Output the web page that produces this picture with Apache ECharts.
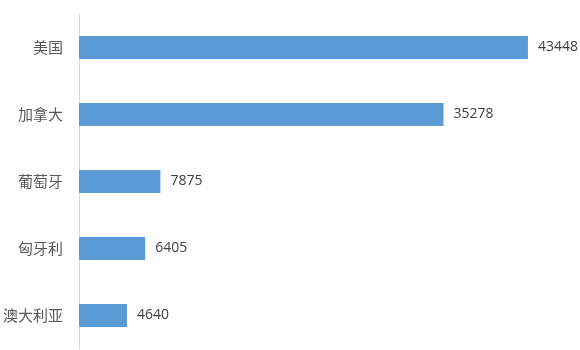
<!DOCTYPE html>
<html>
<head>
<meta charset="utf-8">
<script src="https://cdn.jsdelivr.net/npm/echarts@6/dist/echarts.min.js"></script>
<style>html,body{margin:0;padding:0;background:#fff;}#c{width:580px;height:350px;}</style>
</head>
<body>
<div id="c"></div>
<script>
const categories = ['美国', '加拿大', '葡萄牙', '匈牙利', '澳大利亚'];
const values = [43448, 35278, 7875, 6405, 4640];

const chart = echarts.init(document.getElementById('c'));
chart.setOption({
  animation: false,
  backgroundColor: '#fff',
  grid: { left: 79, right: 36, top: 14, bottom: 1, containLabel: false },
  xAxis: {
    type: 'value', min: 0, max: 45000,
    show: false
  },
  yAxis: {
    type: 'category',
    data: categories,
    inverse: true,
    axisLine: { show: true, lineStyle: { color: '#d9d9d9', width: 1 } },
    axisTick: { show: false },
    axisLabel: {
      margin: 16,
      fontSize: 15,
      color: '#595959',
      fontFamily: '"Noto Sans CJK SC", sans-serif'
    }
  },
  series: [{
    type: 'bar',
    data: values,
    barWidth: 23,
    itemStyle: { color: '#5B9BD5' },
    label: {
      show: true,
      position: 'right',
      distance: 10,
      fontSize: 14,
      color: '#404040',
      fontFamily: '"Open Sans", sans-serif'
    }
  }]
});
</script>
</body>
</html>
